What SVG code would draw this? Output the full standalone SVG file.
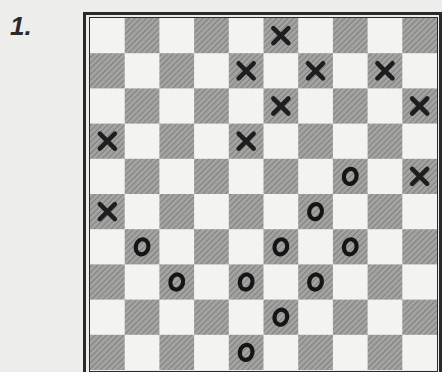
<svg xmlns="http://www.w3.org/2000/svg" width="442" height="372" viewBox="0 0 442 372">
<style>
.bg{fill:#ededeb}
.light{fill:#f3f3f1}
.d{fill:url(#hatch)}
.frame{fill:none;stroke:#2a2a2a}
.x{fill:none;stroke:#1e1e1e;stroke-width:4.6;stroke-linecap:round}
.o{fill:none;stroke:#151515;stroke-width:4.2}
.lbl{font-family:"Liberation Sans",Arial,sans-serif;font-weight:bold;font-style:italic;font-size:26px;fill:#2a2a2a}
</style>
<defs>
<pattern id="hatch" patternUnits="userSpaceOnUse" width="4" height="4" patternTransform="rotate(45)">
<rect width="4" height="4" fill="#a3a3a1"/>
<line x1="0" y1="0" x2="0" y2="4" stroke="#777775" stroke-width="1.6"/>
</pattern>
<path id="X" d="M-7.5,-7.5 L7.5,7.5 M7.5,-7.5 L-7.5,7.5"/>
<ellipse id="O" rx="6.3" ry="7.6" transform="rotate(15)"/>
</defs>
<rect class="bg" width="442" height="372"/>
<text class="lbl" x="10" y="35">1.</text>
<g id="board">
<rect class="light" x="90" y="18" width="347" height="352"/>
<g id="dark-cells">
<rect class="d" x="124.7" y="18" width="34.7" height="35.2"/><rect class="d" x="194.1" y="18" width="34.7" height="35.2"/><rect class="d" x="263.5" y="18" width="34.7" height="35.2"/><rect class="d" x="332.9" y="18" width="34.7" height="35.2"/><rect class="d" x="402.3" y="18" width="34.7" height="35.2"/>
<rect class="d" x="90" y="53.2" width="34.7" height="35.2"/><rect class="d" x="159.4" y="53.2" width="34.7" height="35.2"/><rect class="d" x="228.8" y="53.2" width="34.7" height="35.2"/><rect class="d" x="298.2" y="53.2" width="34.7" height="35.2"/><rect class="d" x="367.6" y="53.2" width="34.7" height="35.2"/>
<rect class="d" x="124.7" y="88.4" width="34.7" height="35.2"/><rect class="d" x="194.1" y="88.4" width="34.7" height="35.2"/><rect class="d" x="263.5" y="88.4" width="34.7" height="35.2"/><rect class="d" x="332.9" y="88.4" width="34.7" height="35.2"/><rect class="d" x="402.3" y="88.4" width="34.7" height="35.2"/>
<rect class="d" x="90" y="123.6" width="34.7" height="35.2"/><rect class="d" x="159.4" y="123.6" width="34.7" height="35.2"/><rect class="d" x="228.8" y="123.6" width="34.7" height="35.2"/><rect class="d" x="298.2" y="123.6" width="34.7" height="35.2"/><rect class="d" x="367.6" y="123.6" width="34.7" height="35.2"/>
<rect class="d" x="124.7" y="158.8" width="34.7" height="35.2"/><rect class="d" x="194.1" y="158.8" width="34.7" height="35.2"/><rect class="d" x="263.5" y="158.8" width="34.7" height="35.2"/><rect class="d" x="332.9" y="158.8" width="34.7" height="35.2"/><rect class="d" x="402.3" y="158.8" width="34.7" height="35.2"/>
<rect class="d" x="90" y="194" width="34.7" height="35.2"/><rect class="d" x="159.4" y="194" width="34.7" height="35.2"/><rect class="d" x="228.8" y="194" width="34.7" height="35.2"/><rect class="d" x="298.2" y="194" width="34.7" height="35.2"/><rect class="d" x="367.6" y="194" width="34.7" height="35.2"/>
<rect class="d" x="124.7" y="229.2" width="34.7" height="35.2"/><rect class="d" x="194.1" y="229.2" width="34.7" height="35.2"/><rect class="d" x="263.5" y="229.2" width="34.7" height="35.2"/><rect class="d" x="332.9" y="229.2" width="34.7" height="35.2"/><rect class="d" x="402.3" y="229.2" width="34.7" height="35.2"/>
<rect class="d" x="90" y="264.4" width="34.7" height="35.2"/><rect class="d" x="159.4" y="264.4" width="34.7" height="35.2"/><rect class="d" x="228.8" y="264.4" width="34.7" height="35.2"/><rect class="d" x="298.2" y="264.4" width="34.7" height="35.2"/><rect class="d" x="367.6" y="264.4" width="34.7" height="35.2"/>
<rect class="d" x="124.7" y="299.6" width="34.7" height="35.2"/><rect class="d" x="194.1" y="299.6" width="34.7" height="35.2"/><rect class="d" x="263.5" y="299.6" width="34.7" height="35.2"/><rect class="d" x="332.9" y="299.6" width="34.7" height="35.2"/><rect class="d" x="402.3" y="299.6" width="34.7" height="35.2"/>
<rect class="d" x="90" y="334.8" width="34.7" height="35.2"/><rect class="d" x="159.4" y="334.8" width="34.7" height="35.2"/><rect class="d" x="228.8" y="334.8" width="34.7" height="35.2"/><rect class="d" x="298.2" y="334.8" width="34.7" height="35.2"/><rect class="d" x="367.6" y="334.8" width="34.7" height="35.2"/>
</g>
<g id="frame">
<rect class="frame" x="84.5" y="13.5" width="356" height="362" stroke-width="3"/>
<rect class="frame" x="89.5" y="17.5" width="348" height="354" stroke-width="1"/>
</g>
</g>
<g id="crosses" class="x">
<use href="#X" x="280.85" y="35.6"/>
<use href="#X" x="246.15" y="70.8"/>
<use href="#X" x="315.55" y="70.8"/>
<use href="#X" x="384.95" y="70.8"/>
<use href="#X" x="280.85" y="106"/>
<use href="#X" x="419.65" y="106"/>
<use href="#X" x="107.35" y="141.2"/>
<use href="#X" x="246.15" y="141.2"/>
<use href="#X" x="419.65" y="176.4"/>
<use href="#X" x="107.35" y="211.6"/>
</g>
<g id="rings" class="o">
<use href="#O" x="350.25" y="176.4"/>
<use href="#O" x="315.55" y="211.6"/>
<use href="#O" x="142.05" y="246.8"/>
<use href="#O" x="280.85" y="246.8"/>
<use href="#O" x="350.25" y="246.8"/>
<use href="#O" x="176.75" y="282"/>
<use href="#O" x="246.15" y="282"/>
<use href="#O" x="315.55" y="282"/>
<use href="#O" x="280.85" y="317.2"/>
<use href="#O" x="246.15" y="352.4"/>
</g>
</svg>
